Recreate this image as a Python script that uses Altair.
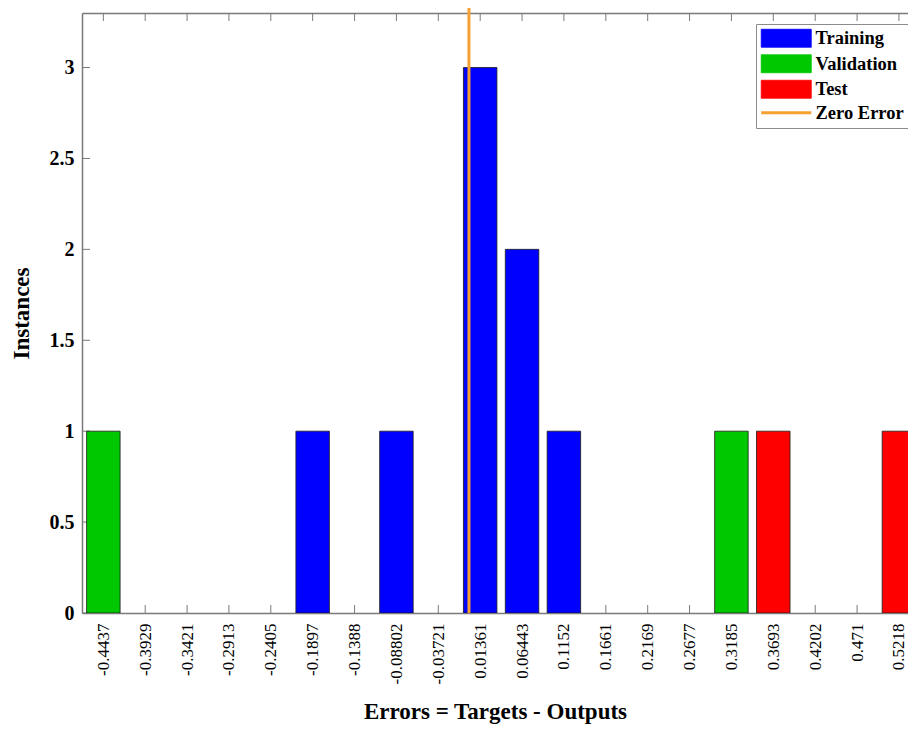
import altair as alt
import pandas as pd

# ---- data ----
bin_labels = ["-0.4437", "-0.3929", "-0.3421", "-0.2913", "-0.2405", "-0.1897",
              "-0.1388", "-0.08802", "-0.03721", "0.01361", "0.06443", "0.1152",
              "0.1661", "0.2169", "0.2677", "0.3185", "0.3693", "0.4202", "0.471",
              "0.5218"]
bin_centers = [float(s) for s in bin_labels]

bar_bins = ["-0.4437", "-0.1897", "-0.08802", "0.01361", "0.06443", "0.1152",
            "0.3185", "0.3693", "0.5218"]
bar_counts = [1, 1, 1, 3, 2, 1, 1, 1, 1]
bar_sets = ["Validation", "Training", "Training", "Training", "Training",
            "Training", "Validation", "Test", "Test"]

series_names = ["Training", "Validation", "Test", "Zero Error"]
series_colors = ["#0000FF", "#00C800", "#FF0000", "#F5A030"]

y_ticks = [0, 0.5, 1, 1.5, 2, 2.5, 3]
zero_error_x = [0.0]

# ---- derived tables ----
bw = (bin_centers[-1] - bin_centers[0]) / (len(bin_centers) - 1)
bars = pd.DataFrame({
    "c": [float(b) for b in bar_bins],
    "count": bar_counts,
    "set": bar_sets,
})
bars["x"] = bars["c"] - 0.4 * bw
bars["x2"] = bars["c"] + 0.4 * bw
bars["base"] = 0

centers_df = pd.DataFrame({"x": bin_centers})
yt_df = pd.DataFrame({"y": y_ticks})
zero_df = pd.DataFrame({"x": zero_error_x, "y": [0.0], "y2": [3.4], "set": ["Zero Error"]})

W, H = 826, 600
FONT = "Liberation Serif"
AX = "#7a7a7a"

xscale = alt.Scale(domain=[bin_centers[0] - bw / 2 - 0.0005, 0.5328], nice=False, zero=False)
yscale = alt.Scale(domain=[0, 3.3], nice=False)
cscale = alt.Scale(domain=series_names, range=series_colors)

is_zero = "datum.label === 'Zero Error'"
legend = alt.Legend(
    title=None, orient="none", legendX=674, legendY=11,
    symbolSize=324, symbolOffset=16, labelOffset=20,
    symbolType={"expr": f"{is_zero} ? 'M-2.78,0H2.78' : 'M-2.78,-1H2.78V1H-2.78Z'"},
    symbolStrokeColor={"expr": f"{is_zero} ? '#F5A030' : '#1a1a1a'"},
    symbolStrokeWidth={"expr": f"{is_zero} ? 3 : 0.8"},
    labelFont=FONT, labelFontSize=18.5, labelFontWeight="bold", labelColor="black",
    fillColor="white", strokeColor="#8c8c8c", padding=5, rowPadding=3.5,
)

x_axis = alt.Axis(
    values=bin_centers, labelExpr="replace(format(datum.value, '.4~r'), '\u2212', '-')",
    labelAngle=270, ticks=False, grid=False, labelFont=FONT, labelFontSize=17,
    labelColor="black", labelPadding=10, domainColor=AX, domainWidth=1.5,
    title="Errors = Targets - Outputs", titleFont=FONT, titleFontSize=23,
    titleFontWeight="bold", titleColor="black", titlePadding=17,
)
x_top_axis = alt.Axis(orient="top", labels=False, ticks=False, grid=False, title=None,
                      domainColor=AX, domainWidth=1.5)
y_axis = alt.Axis(
    values=y_ticks, format="~g", ticks=False, grid=False, labelFont=FONT,
    labelFontSize=20, labelFontWeight="bold", labelColor="black", labelPadding=8,
    domainColor=AX, domainWidth=1.5, title="Instances", titleFont=FONT,
    titleFontSize=23, titleFontWeight="bold", titleColor="black", titlePadding=16,
)

bottom_ticks = alt.Chart(centers_df).mark_rule(color=AX, strokeWidth=1).encode(
    x=alt.X("x:Q", scale=xscale, axis=None), y=alt.value(H), y2=alt.value(H - 8))
top_ticks = alt.Chart(centers_df).mark_rule(color=AX, strokeWidth=1).encode(
    x=alt.X("x:Q", scale=xscale, axis=x_top_axis), y=alt.value(0), y2=alt.value(8))
left_ticks = alt.Chart(yt_df).mark_rule(color=AX, strokeWidth=1).encode(
    y=alt.Y("y:Q", scale=yscale, axis=None), x=alt.value(0), x2=alt.value(8))

bar_layer = alt.Chart(bars).mark_bar(clip=True).encode(
    x=alt.X("x:Q", scale=xscale, axis=x_axis),
    x2="x2:Q",
    y=alt.Y("count:Q", scale=yscale, axis=y_axis),
    y2="base:Q",
    color=alt.Color("set:N", scale=cscale, legend=legend),
)
bar_outline = alt.Chart(bars).mark_bar(
    clip=True, fill="transparent", stroke="#1a1a1a", strokeWidth=0.8
).encode(
    x=alt.X("x:Q", scale=xscale, axis=None),
    x2="x2:Q",
    y=alt.Y("count:Q", scale=yscale, axis=None),
    y2="base:Q",
)

zero_layer = alt.Chart(zero_df).mark_rule(strokeWidth=3).encode(
    x=alt.X("x:Q", scale=xscale, axis=None),
    y=alt.Y("y:Q", scale=yscale, axis=None),
    y2="y2:Q",
    color=alt.Color("set:N", scale=cscale, legend=None),
)

chart = alt.layer(
    bottom_ticks, top_ticks, left_ticks, bar_layer, bar_outline, zero_layer
).resolve_axis(x="independent", y="independent").properties(
    width=W, height=H,
    autosize=alt.AutoSizeParams(type="none"),
    padding={"left": 74, "top": 5, "right": 0, "bottom": 111},
    background="white",
).configure_view(strokeWidth=0)

chart.save("out.html", embed_options={"renderer": "svg", "actions": False})
